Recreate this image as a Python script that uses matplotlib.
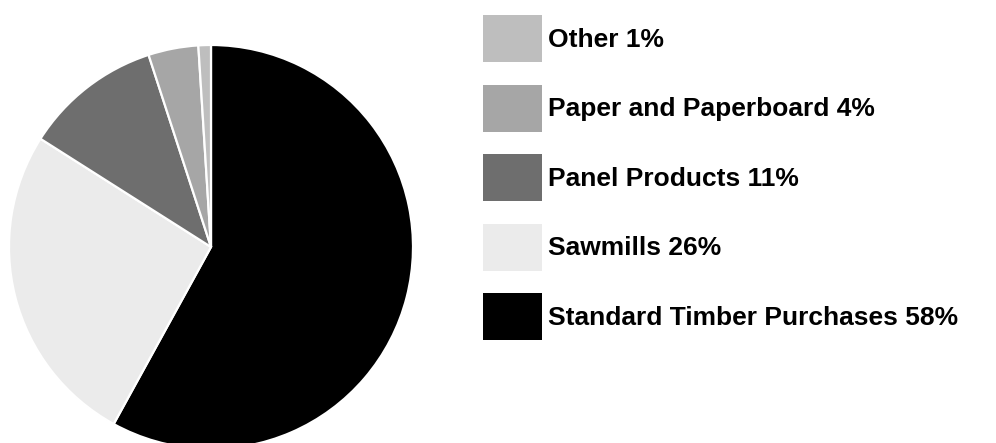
import matplotlib
matplotlib.use('Agg')
import matplotlib.pyplot as plt
from matplotlib.patches import Patch

labels = ['Standard Timber Purchases', 'Sawmills', 'Panel Products',
          'Paper and Paperboard', 'Other']
shares = [58, 26, 11, 4, 1]
colors = ['#000000', '#ebebeb', '#6e6e6e', '#a6a6a6', '#bebebe']

plt.rcParams['font.family'] = ['Liberation Sans', 'DejaVu Sans']

W, H = 996, 443
fig = plt.figure(figsize=(W / 100, H / 100), dpi=100)

# pie centre ~(211, 247) px, radius ~202 px
cx, cy, r = 211, 247, 202
ax = fig.add_axes([(cx - r) / W, (H - cy - r) / H, 2 * r / W, 2 * r / H])
ax.pie(shares, colors=colors, startangle=90, counterclock=False, radius=1,
       wedgeprops=dict(edgecolor='white', linewidth=1.6))
ax.set_xlim(-1, 1)
ax.set_ylim(-1, 1)
ax.set_aspect('equal')
ax.axis('off')

handles = [Patch(facecolor=c, edgecolor='none') for c in colors][::-1]
texts = [f'{l} {s}%' for l, s in zip(labels, shares)][::-1]
fs = 19
fpx = fs * 100 / 72
box_h = 47 / fpx
fig.legend(handles, texts, loc='upper left', bbox_to_anchor=(483 / W, 1 - 15 / H),
           frameon=False, borderpad=0, borderaxespad=0,
           prop=dict(size=fs, weight='bold'),
           handlelength=59 / fpx, handleheight=(box_h - 0.245) / 0.65,
           handletextpad=6 / fpx, labelspacing=22.5 / fpx)

fig.savefig('out.png', dpi=100)
